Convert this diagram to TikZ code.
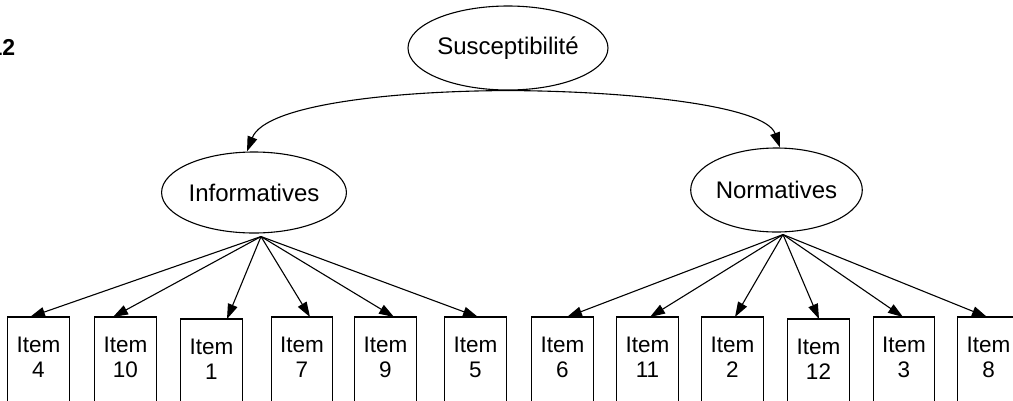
\documentclass[tikz,border=0pt]{standalone}
\usepackage{fontspec}
\setmainfont{Liberation Sans}
\usetikzlibrary{arrows.meta,shapes.geometric}
\begin{document}
\begin{tikzpicture}[x=1pt,y=-1pt,
  lat/.style={draw,ellipse,line width=1.1pt,inner sep=0pt,font=\fontsize{24}{24}\selectfont},
  itemtxt/.style={anchor=north,minimum width=61pt,minimum height=81pt,inner sep=0pt,align=center,font=\fontsize{22.5}{25}\selectfont},
  boxline/.style={line width=1.1pt},
  arr/.style={line width=1.1pt,-{Triangle[length=15pt,width=10pt]}}
]
\useasboundingbox (0,0) rectangle (1013,400);
\clip (0,0) rectangle (1013,400);
\fill[white] (0,0) rectangle (1013,400);

\node[anchor=base west,inner sep=0pt,font=\bfseries\fontsize{23}{23}\selectfont] (fig) at (-10.5,55) {12};

\node[lat,minimum width=160pt,minimum height=84pt] (sus) at (508,48) {Susceptibilité};
\node[lat,minimum width=156pt,minimum height=81pt] (inf) at (254,192.5) {Informatives};
\node[lat,minimum width=157pt,minimum height=84pt] (nor) at (776.5,190) {Normatives};

\draw[arr] (sus.south) .. controls (390,91) and (265,105) .. ([xshift=-7pt]inf.north);
\draw[arr] (sus.south) .. controls (626,91) and (765,105) .. ([xshift=3.5pt]nor.north);

\coordinate (infsrc) at ([xshift=7pt,yshift=-3pt]inf.south);
\coordinate (norsrc) at ([xshift=6.5pt,yshift=-2pt]nor.south);

\foreach \name/\cx/\top/\num/\off/\src in {
  i4/38.5/317/4/-8.5/infsrc, i10/125.5/317/10/-12.5/infsrc, i1/211.5/319/1/15.5/infsrc,
  i7/302/317/7/8/infsrc, i9/385.5/317/9/8.5/infsrc, i5/475.5/317/5/2.5/infsrc,
  i6/562.5/317/6/4.5/norsrc, i11/647.5/317/11/2.5/norsrc, i2/732.5/317/2/2.5/norsrc,
  i12/818.5/319/12/0.5/norsrc, i3/904/317/3/-1/norsrc, i8/988.5/317/8/-1.5/norsrc}{
  \node[itemtxt] (\name) at (\cx,\top) {Item\\\num};
  \draw[boxline] (\name.north west) rectangle ([yshift=-40pt]\name.south east);
  \draw[arr] (\src) -- ([xshift=\off pt]\name.north);
}
\end{tikzpicture}
\end{document}
